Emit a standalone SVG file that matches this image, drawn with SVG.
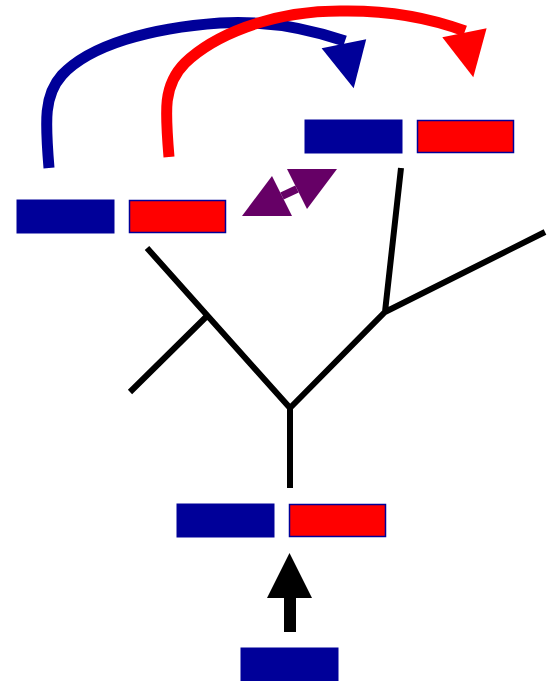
<svg xmlns="http://www.w3.org/2000/svg" width="547" height="681" viewBox="0 0 547 681">
  <style>
    .blue { fill: #000099; stroke: #000099; stroke-width: 1; }
    .red { fill: #ff0000; stroke: #000099; stroke-width: 1.5; }
    .tree { fill: none; stroke: #000000; stroke-width: 6; stroke-linecap: butt; }
    .curve { fill: none; stroke-width: 11; stroke-linecap: butt; }
  </style>
  <rect width="547" height="681" fill="#ffffff"/>

  <!-- gene pairs -->
  <g id="pair-top-right">
    <rect class="blue" x="305" y="120" width="97" height="33"/>
    <rect class="red" x="417.5" y="120.5" width="96" height="32"/>
  </g>
  <g id="pair-left">
    <rect class="blue" x="17" y="200" width="97" height="33"/>
    <rect class="red" x="129.5" y="200.5" width="96" height="32"/>
  </g>
  <g id="pair-bottom">
    <rect class="blue" x="177" y="504" width="97" height="33"/>
    <rect class="red" x="289.5" y="504.5" width="96" height="32"/>
  </g>
  <g id="single-bottom">
    <rect class="blue" x="241" y="648" width="97" height="34"/>
  </g>

  <!-- tree and arrows -->
  <g id="connectors">
    <path class="tree" d="M290,488 L290,408 L147,248 M207,316 L130,392 M290,408 L385,312 L545,232 M385,312 L401,168"/>

    <path class="curve" stroke="#000099" d="M49,168 C45,120 44,95 62,75 C90,45 150,28 220,23 C270,20 310,29 345,41"/>
    <polygon fill="#000099" points="321.6,48.3 366.2,39.3 353.7,88.3"/>

    <path class="curve" stroke="#ff0000" d="M169,157 C165,110 163,85 185,63 C212,37 268,11 340,11 C390,10 430,18 465,31"/>
    <polygon fill="#ff0000" points="442.3,37.3 486.6,28.3 473.3,77.3"/>

    <path stroke="#660066" stroke-width="8" fill="none" d="M282,196 L297,189"/>
    <polygon fill="#660066" points="242,216 292,216 272,176"/>
    <polygon fill="#660066" points="287,169 337,169 307,209"/>

    <rect x="284" y="597" width="12" height="35" fill="#000000"/>
    <polygon fill="#000000" points="267,598 312,598 289.5,553"/>
  </g>
</svg>
